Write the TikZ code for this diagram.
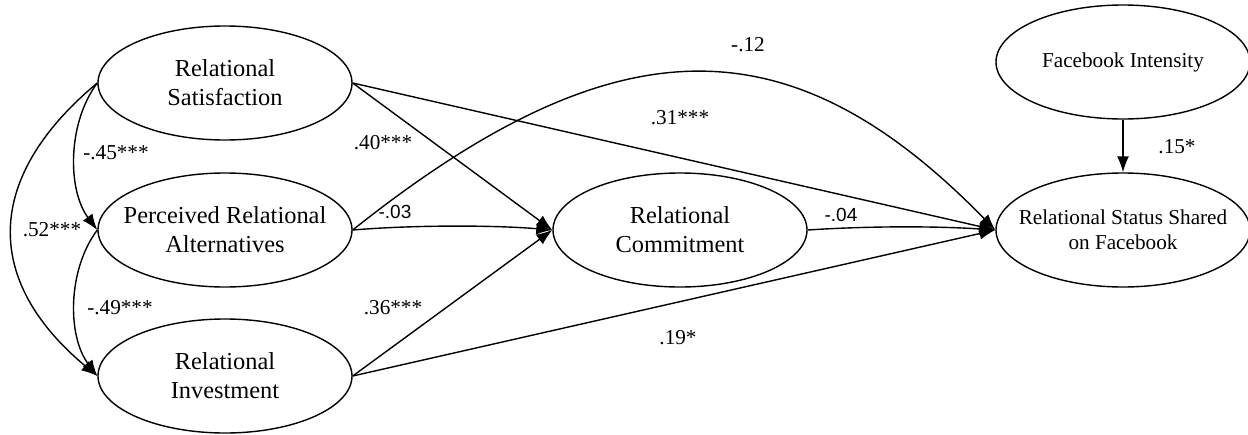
\documentclass[tikz,border=0pt]{standalone}
\usepackage{fontspec}
\setmainfont{Liberation Serif}
\newfontfamily\arialf{Liberation Sans}
\usetikzlibrary{shapes.geometric,arrows.meta}
\begin{document}
\begin{tikzpicture}[x=0.5pt,y=-0.5pt,
  ell/.style={ellipse,draw,line width=0.7pt,minimum width=127pt,minimum height=57pt,inner sep=0pt},
  big/.style={label={[align=center,font=\fontsize{12.2}{14.5}\selectfont]center:#1}},
  small/.style={label={[align=center,font=\fontsize{10.6}{12.5}\selectfont]center:#1}},
  arr/.style={line width=0.7pt,-{Latex[length=8pt,width=6pt]}},
  lab/.style={font=\fontsize{10.6}{12}\selectfont,inner sep=0pt},
  labs/.style={font=\arialf\fontsize{9.5}{11}\selectfont,inner sep=0pt}]
\useasboundingbox (0,0) rectangle (1248,434);
% nodes
\node[ell,big={Relational\\Satisfaction}] (sat) at (225,83) {};
\node[ell,big={Perceived Relational\\Alternatives}] (pra) at (225,230) {};
\node[ell,big={Relational\\Investment}] (inv) at (225,376) {};
\node[ell,big={Relational\\Commitment}] (com) at (680,230) {};
\node[ell,small={Relational Status Shared\\on Facebook}] (st) at (1123,230) {};
\node[ell,small={Facebook Intensity}] (fi) at (1123,62) {};
% left curved paths
\draw[arr] (sat.west) .. controls +(-30,40) and +(-30,-40) .. (pra.west);
\draw[arr] (sat.west) .. controls +(-114,95) and +(-114,-95) .. (inv.west);
\draw[arr] (pra.west) .. controls +(-30,40) and +(-30,-40) .. (inv.west);
% to commitment
\draw[arr] (sat.east) -- (com.west);
\draw[arr] (pra.east) .. controls +(60,-5) and +(-60,-5) .. (com.west);
\draw[arr] (inv.east) -- (com.west);
% to status
\draw[arr] (sat.east) -- (st.west);
\draw[arr] (pra.east) .. controls +(264,-210) and +(-205,-210) .. (st.west);
\draw[arr] (com.east) .. controls +(60,-4) and +(-60,-4) .. (st.west);
\draw[arr] (inv.east) -- (st.west);
\draw[arr] (fi.south) -- (st.north);
% labels
\node[lab] (l1) at (116,153) {-.45***};
\node[lab] (l2) at (52,230) {.52***};
\node[lab] (l3) at (120,308) {-.49***};
\node[lab] (l4) at (383,143) {.40***};
\node[labs] (l5) at (395,212) {-.03};
\node[lab] (l6) at (393,308) {.36***};
\node[lab] (l7) at (680,118) {.31***};
\node[lab] (l8) at (748,45) {-.12};
\node[lab] (l9) at (678,338) {.19*};
\node[labs] (l10) at (841,215) {-.04};
\node[lab] (l11) at (1177,147) {.15*};
\end{tikzpicture}
\end{document}
